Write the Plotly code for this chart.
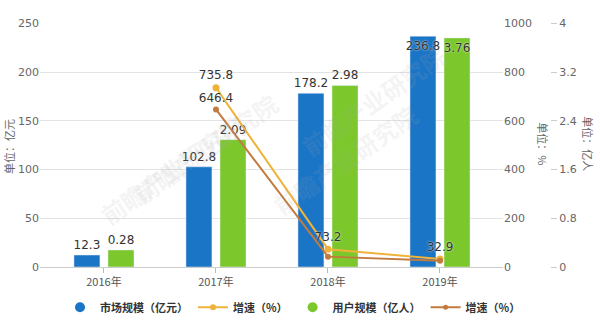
import plotly.graph_objects as go

years = ["2016年", "2017年", "2018年", "2019年"]
market_size = [12.3, 102.8, 178.2, 236.8]          # 亿元
user_size = [0.28, 2.09, 2.98, 3.76]               # 亿人
growth_years = ["2017年", "2018年", "2019年"]
market_growth = [735.8, 73.2, 32.9]                # %
user_growth = [646.4, 42.6, 26.2]                  # %
user_growth_label_shown = [True, False, False]

BLUE = "#1B75C6"
GREEN = "#7CC82C"
YELLOW = "#EFB33A"
BROWN = "#C27A3E"
W = 600
H = 322

def px(x):
    return x / W

def py(y):
    return 1 - y / H

fig = go.Figure()

label_font = dict(family="DejaVu Sans", size=12, color="#333333",
                  shadow="0px 0px 2px white")

fig.add_trace(go.Bar(
    x=years, y=market_size, name="市场规模（亿元）", marker_color=BLUE,
    width=0.232, offset=-0.268, xaxis="x", yaxis="y",
    text=[f"{v}" for v in market_size],
    textposition=["outside", "outside", "outside", "inside"],
    insidetextanchor="end", textangle=0, constraintext="none",
    textfont=label_font, insidetextfont=label_font, outsidetextfont=label_font,
    cliponaxis=False, showlegend=False,
))
fig.add_trace(go.Bar(
    x=years, y=user_size, name="用户规模（亿人）", marker_color=GREEN,
    width=0.232, offset=0.036, xaxis="x", yaxis="y2",
    text=[f"{v}" for v in user_size],
    textposition=["outside", "outside", "outside", "inside"],
    insidetextanchor="end", textangle=0, constraintext="none",
    textfont=label_font, insidetextfont=label_font, outsidetextfont=label_font,
    cliponaxis=False, showlegend=False,
))
fig.add_trace(go.Scatter(
    x=growth_years, y=market_growth, name="增速（%）", mode="lines+markers+text",
    line=dict(color=YELLOW, width=2), marker=dict(color=YELLOW, size=7),
    text=[f"{v}" for v in market_growth], textposition="top center",
    textfont=label_font, xaxis="x", yaxis="y3", showlegend=False, cliponaxis=False,
))
fig.add_trace(go.Scatter(
    x=growth_years, y=user_growth, name="增速（%）", mode="lines+markers+text",
    line=dict(color=BROWN, width=2), marker=dict(color=BROWN, size=6),
    text=[f"{v}" if s else "" for v, s in zip(user_growth, user_growth_label_shown)],
    textposition="top center",
    textfont=label_font, xaxis="x", yaxis="y3", showlegend=False, cliponaxis=False,
))

# legend-only traces
fig.add_trace(go.Scatter(x=[None], y=[None], mode="markers", name="市场规模（亿元）",
                         marker=dict(color=BLUE, size=10, symbol="circle"), legendrank=1))
fig.add_trace(go.Scatter(x=[None], y=[None], mode="lines+markers", name="增速（%）",
                         line=dict(color=YELLOW, width=2), marker=dict(color=YELLOW, size=6), legendrank=2))
fig.add_trace(go.Scatter(x=[None], y=[None], mode="markers", name="用户规模（亿人）",
                         marker=dict(color=GREEN, size=10, symbol="circle"), legendrank=3))
fig.add_trace(go.Scatter(x=[None], y=[None], mode="lines+markers", name="增速（%） ",
                         line=dict(color=BROWN, width=2), marker=dict(color=BROWN, size=5), legendrank=4))

tick_font = dict(family="DejaVu Sans", size=11, color="#666666")

fig.update_layout(
    width=W, height=H,
    margin=dict(l=0, r=0, t=0, b=0),
    paper_bgcolor="white", plot_bgcolor="white",
    barmode="overlay",
    font=dict(family="Noto Sans CJK SC", size=11, color="#555555"),
    xaxis=dict(domain=[px(40), px(503)], type="category",
               range=[-0.571, 3.5625], showgrid=False,
               showline=True, linecolor="#cccccc", linewidth=1,
               ticks="outside", ticklen=5, tickcolor="#bbbbbb",
               tickfont=dict(family="Noto Sans CJK SC", size=11, color="#555555"),
               anchor="y", zeroline=False),
    yaxis=dict(domain=[py(272), py(18)], range=[0, 250], dtick=50,
               showgrid=True, gridcolor="#e3e3e3", zeroline=False,
               tickfont=tick_font, ticks="", anchor="x"),
    yaxis3=dict(overlaying="y", side="right", anchor="x", range=[0, 1000], dtick=200,
                showgrid=False, zeroline=False, tickfont=tick_font, ticks=""),
    yaxis2=dict(overlaying="y", side="right", anchor="free", position=px(550),
                range=[0, 4], dtick=0.8, tickformat="~g", showgrid=False, zeroline=False,
                showline=False, ticks="outside", ticklen=6, tickcolor="#cccccc",
                tickfont=tick_font),
    legend=dict(orientation="h", x=px(294), xanchor="center", y=py(314), yanchor="middle",
                font=dict(family="Noto Sans CJK SC", size=11, color="#333333", weight="bold"),
                itemwidth=30, tracegroupgap=0, bgcolor="rgba(0,0,0,0)"),
    showlegend=True,
)

annotations = [
    dict(text="单位：亿元", x=px(9), y=py(147), textangle=-90),
    dict(text="单位：%", x=px(543), y=py(143), textangle=90),
    dict(text="单位：亿人", x=px(588), y=py(143), textangle=90),
]
for a in annotations:
    fig.add_annotation(xref="paper", yref="paper", showarrow=False,
                       font=dict(family="Noto Sans CJK SC", size=11, color="#666666"),
                       xanchor="center", yanchor="middle", **a)

watermarks = [(90, 238), (205, 80), (345, 228), (455, 30)]
for wx, wy in watermarks:
    fig.add_annotation(text="前瞻产业研究院", xref="paper", yref="paper", x=px(wx), y=py(wy),
                       showarrow=False, textangle=-35,
                       font=dict(family="Noto Sans CJK SC", size=24, color="rgba(170,170,170,0.15)",
                                 weight="bold"))

fig.write_html("out.html")
